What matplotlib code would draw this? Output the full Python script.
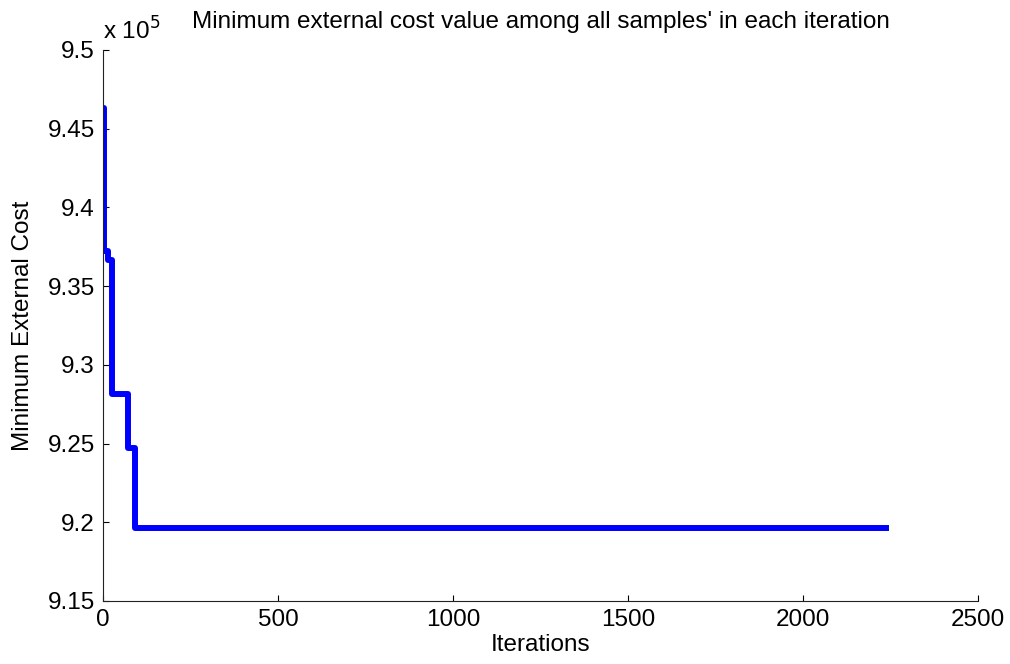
import numpy as np
import matplotlib
matplotlib.use('Agg')
import matplotlib.pyplot as plt

plt.rcParams['font.family'] = ['Liberation Sans', 'DejaVu Sans']

# step points (iteration where the minimum changes) and the minimum cost
iterations = [1, 4, 15, 26, 70, 91, 2237]
min_cost = [946330, 937250, 936650, 928150, 924750, 919650, 919650]

y_ticks = [9.15, 9.2, 9.25, 9.3, 9.35, 9.4, 9.45, 9.5]
y_tick_labels = ['9.15', '9.2', '9.25', '9.3', '9.35', '9.4', '9.45', '9.5']
x_ticks = [0, 500, 1000, 1500, 2000, 2500]

fig = plt.figure(figsize=(10.1, 6.64), dpi=100)
ax = fig.add_axes([103 / 1010, 63 / 664, 875 / 1010, 551 / 664])

cost_scaled = np.array(min_cost) / 1e5
ax.plot(iterations, cost_scaled, drawstyle='steps-post', color='#0000ff', linewidth=4.3)

ax.set_xlim(0, 2500)
ax.set_ylim(9.15, 9.5)
ax.set_xticks(x_ticks)
ax.set_yticks(y_ticks)
ax.set_yticklabels(y_tick_labels)

ax.spines['top'].set_visible(False)
ax.spines['right'].set_visible(False)
for s in ['left', 'bottom']:
    ax.spines[s].set_linewidth(0.8)
    ax.spines[s].set_color('#222222')

ax.tick_params(direction='in', length=4, width=0.8, labelsize=17.5, pad=6)

ax.set_xlabel('Iterations', fontsize=17.5, labelpad=2)
ax.set_ylabel('Minimum External Cost', fontsize=17.5, labelpad=10)
ax.set_title("Minimum external cost value among all samples' in each iteration",
             fontsize=17.5, pad=16)

fig.text(103 / 1010, 1 - 40 / 664, r'x 10$^5$', fontsize=17.5, ha='left', va='baseline')

plt.savefig('out.png', dpi=100)
